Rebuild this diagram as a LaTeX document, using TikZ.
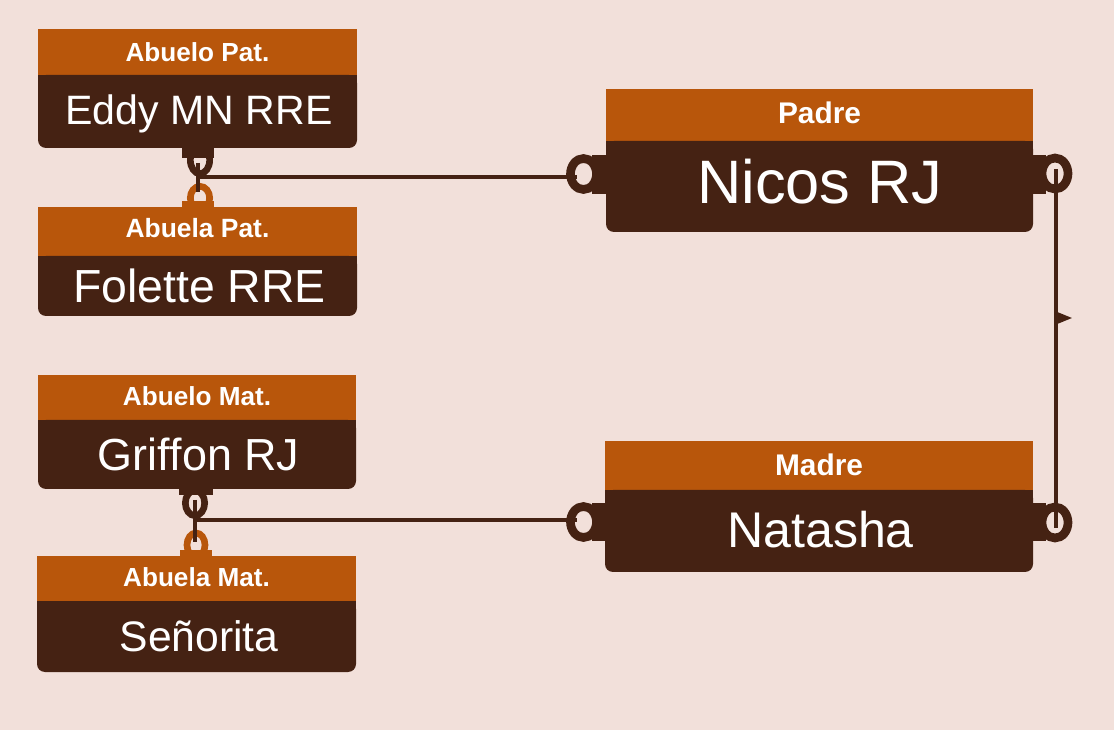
\documentclass[tikz,border=0pt]{standalone}
\usepackage{fontspec}
\setmainfont{Liberation Sans}
\usetikzlibrary{positioning,backgrounds,shapes.geometric}
\definecolor{paper}{HTML}{F2E0DA}
\definecolor{rust}{HTML}{B8560B}
\definecolor{bark}{HTML}{452213}
\tikzset{
  head/.style={fill=rust,inner sep=0pt,outer sep=0pt,anchor=north west},
  person/.style={fill=bark,inner sep=0pt,outer sep=0pt,rounded corners=6pt},
  ttl/.style={text=white,font=\bfseries\fontsize{#1}{#1}\selectfont,inner sep=0pt},
  who/.style={text=white,font=\fontsize{#1}{#1}\selectfont,inner sep=0pt},
  ring/.style={ellipse,draw=bark,line width=6.5pt,inner sep=0pt,outer sep=0pt,minimum width=19.5pt,minimum height=23.25pt},
  hook/.style={ellipse,draw,line width=5pt,inner sep=0pt,outer sep=0pt},
  stub/.style={fill,inner sep=0pt,outer sep=0pt},
  link/.style={draw=bark,line width=3pt},
  drop/.style={draw=bark,line width=3.6pt}
}
\begin{document}
\begin{tikzpicture}[x=0.75pt,y=-0.75pt]
\useasboundingbox (0,0) rectangle (1114,730);
\begin{scope}[on background layer]
  \fill[paper] (0,0) rectangle (1114,730);
\end{scope}
% rings under the stubs
\node[hook,draw=bark,minimum width=14.5pt,minimum height=20.5pt] (eddyring) at (200,160) {};
\node[hook,draw=rust,minimum width=14.5pt,minimum height=17.5pt] (foletring) at (200,198) {};
\node[hook,draw=bark,minimum width=14.5pt,minimum height=19pt] (grifring) at (195,503) {};
\node[hook,draw=rust,minimum width=13.5pt,minimum height=18pt] (senoring) at (196,545) {};
\node[ring] (nicosL) at (583.5,174) {};
\node[ring] (nicosR) at (1055,173.5) {};
\node[ring] (natL) at (583.5,522) {};
\node[ring] (natR) at (1055,522.5) {};
% stubs
\node[stub,bark,minimum width=24pt,minimum height=7.5pt] (s1) at (198,153) {};
\node[stub,rust,minimum width=24pt,minimum height=4.5pt] (s2) at (198,204) {};
\node[stub,bark,minimum width=25pt,minimum height=4.5pt] (s3) at (196,492) {};
\node[stub,rust,minimum width=24pt,minimum height=4.5pt] (s4) at (196,553) {};
\node[stub,bark,minimum width=11pt,minimum height=29pt] (s5) at (599,174.5) {};
\node[stub,bark,minimum width=11pt,minimum height=29pt] (s6) at (1039,174.5) {};
\node[stub,bark,minimum width=11pt,minimum height=29pt] (s7) at (599,522) {};
\node[stub,bark,minimum width=11pt,minimum height=29pt] (s8) at (1039,522) {};
% entities
\foreach \name/\xa/\ya/\boxw/\hh/\bh/\heading/\hsize/\hup/\person/\fsize/\pright/\pup in {
  eddy/38/29/319/46/73/Abuelo Pat./19.6/0/Eddy MN RRE/30.8/1.5/-2,
  folette/38/207/319/49/60/Abuela Pat./19.8/3/Folette RRE/34.8/2/0,
  griffon/38/375/318/45/69/Abuelo Mat./19.6/1/Griffon RJ/33.7/1.7/0,
  senorita/37/556/319/45/71/Abuela Mat./19.6/1/Señorita/32/2.5/0,
  nicos/606/89/427/52/91/Padre/22.4/2/Nicos RJ/46/0.5/5,
  natasha/605/441/428/49/82/Madre/22.4/1/Natasha/37.6/1.5/1}
{
  \node[head,minimum width=\boxw*0.75pt,minimum height=\hh*0.75pt] (\name-head) at (\xa,\ya) {};
  \node[person,minimum width=\boxw*0.75pt,minimum height=\bh*0.75pt,below=0pt of \name-head] (\name) {};
  \begin{scope}[on background layer]
    \fill[bark] (\name.north west) rectangle (\name.east);
  \end{scope}
  \node[ttl=\hsize,yshift=\hup*0.75pt] (\name-title) at (\name-head.center) {\heading};
  \node[who=\fsize,xshift=\pright*0.75pt,yshift=\pup*0.75pt] (\name-text) at (\name.center) {\person};
}
% connectors
\coordinate (p1) at (198,163);
\coordinate (p2) at (198,192);
\coordinate (p3) at (198,177.5);
\coordinate (p4) at (577,177.5);
\coordinate (p5) at (195,500);
\coordinate (p6) at (195,542);
\coordinate (p7) at (195,520.5);
\coordinate (p8) at (577,520.5);
\coordinate (p9) at (1056,169);
\coordinate (p10) at (1056,528);
\draw[drop] (p1) -- (p2);
\draw[link] (p3) -- (p4);
\draw[drop] (p5) -- (p6);
\draw[link] (p7) -- (p8);
\draw[drop] (p9) -- (p10);
\node[isosceles triangle,isosceles triangle stretches,fill=bark,inner sep=0pt,minimum width=9pt,minimum height=11pt,anchor=west] (tip) at (1057,318) {};
\end{tikzpicture}
\end{document}
